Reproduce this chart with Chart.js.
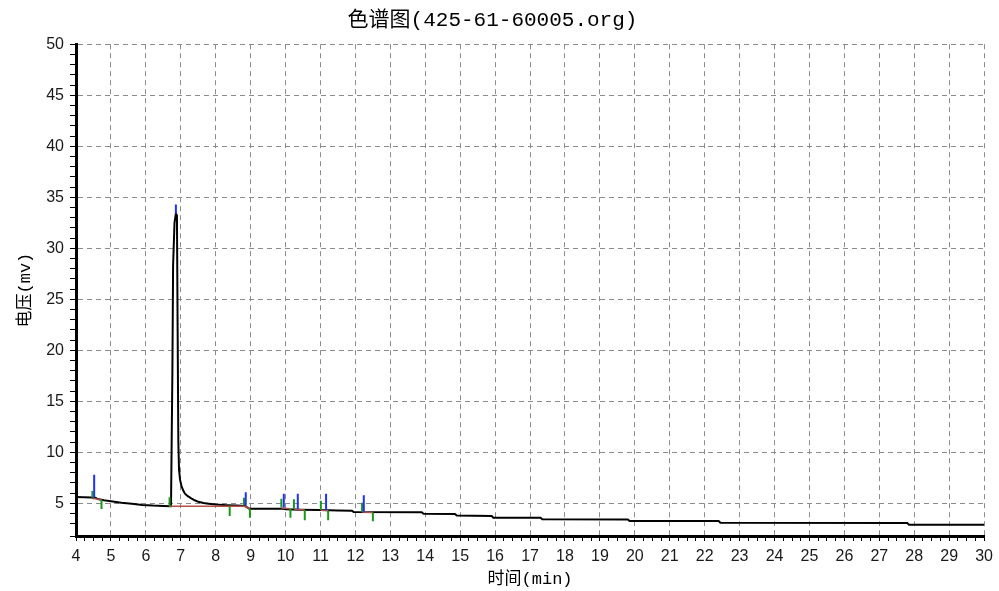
<!DOCTYPE html>
<html>
<head>
<meta charset="utf-8">
<script src="https://cdn.jsdelivr.net/npm/chart.js@4.4.0/dist/chart.umd.min.js"></script>
<style>
html, body { margin: 0; padding: 0; background: #fff; }
#wrap { width: 999px; height: 591px; }
</style>
</head>
<body>
<div id="wrap"><canvas id="chromatogram" width="999" height="591"></canvas></div>
<script>
// detector trace (min, mV)
const traceTime = [4.0, 4.44, 4.5, 4.56, 4.62, 4.8, 5.0, 5.3, 5.6, 5.9, 6.2, 6.5, 6.72, 6.76, 6.78, 6.82, 6.86, 6.89, 6.91, 6.93,
	6.95, 6.98, 7.02, 7.07, 7.12, 7.2, 7.3, 7.4, 7.5, 7.65, 7.8, 8.0, 8.3, 8.6, 8.84, 8.9, 8.96, 9.5, 9.92, 10.0,
	10.4, 11.0, 11.5, 11.9, 11.95, 13.9, 13.95, 14.85, 14.9, 15.9, 15.95, 17.3, 17.35, 19.8, 19.85, 22.4, 22.45, 27.8, 27.85, 30];
const traceVoltage = [5.62, 5.58, 5.5, 5.55, 5.42, 5.3, 5.2, 5.05, 4.95, 4.85, 4.78, 4.74, 4.72, 18, 28.3, 32.5, 33.4, 33.2, 22, 11,
	8.3, 7.3, 6.7, 6.25, 5.95, 5.7, 5.48, 5.3, 5.15, 5.03, 4.96, 4.88, 4.82, 4.78, 4.75, 4.6, 4.48, 4.47, 4.46, 4.42,
	4.38, 4.34, 4.3, 4.28, 4.15, 4.12, 3.98, 3.96, 3.8, 3.76, 3.6, 3.58, 3.43, 3.42, 3.27, 3.26, 3.1, 3.08, 2.9, 2.9];

// peak markers
const apexTime = [4.52, 6.86, 8.86, 9.95, 10.35, 11.16, 12.24];
const apexLow = [5.6, 33.4, 4.8, 4.6, 4.45, 4.33, 4.17];
const apexHigh = [7.8, 34.3, 6.1, 5.95, 5.95, 5.95, 5.8];
const startTime = [4.47, 6.68, 8.81, 9.88, 10.24, 11.01, 12.19];
const startLow = [5.55, 4.7, 4.8, 4.6, 4.48, 4.35, 4.17];
const startHigh = [6.2, 5.6, 5.55, 5.45, 5.4, 5.25, 5.05];
const endTime = [4.73, 8.4, 8.98, 10.14, 10.55, 11.22, 12.5];
const endHigh = [5.35, 4.7, 4.5, 4.5, 4.35, 4.3, 4.1];
const endLow = [4.45, 3.75, 3.6, 3.6, 3.35, 3.35, 3.25];
const baseFrom = [4.47, 6.68, 8.81, 9.88, 10.24, 11.01, 12.19];
const baseFromY = [5.5, 4.72, 4.72, 4.55, 4.45, 4.33, 4.15];
const baseTo = [4.73, 8.81, 8.98, 10.14, 10.55, 11.22, 12.5];
const baseToY = [5.36, 4.72, 4.5, 4.48, 4.36, 4.3, 4.1];

const xLabels = [4, 5, 6, 7, 8, 9, 10, 11, 12, 13, 14, 15, 16, 17, 18, 19, 20, 21, 22, 23, 24, 25, 26, 27, 28, 29, 30];
const yLabels = [5, 10, 15, 20, 25, 30, 35, 40, 45, 50];

const gridGray = '#8c8c8c';
const none = 'rgba(0,0,0,0)';
const mixFont = "'Liberation Mono', 'Noto Sans CJK SC'";

function segments(x1, y1, x2, y2) {
	const pts = [];
	x1.forEach((x, i) => {
		pts.push({x: x, y: y1[i]}, {x: x2[i], y: y2[i]}, {x: x2[i], y: null});
	});
	return pts;
}

function markerSet(data, color, width, order) {
	return {data: data, borderColor: color, borderWidth: width, pointRadius: 0, spanGaps: false, order: order};
}

const canvas = document.getElementById('chromatogram');
// eslint-disable-next-line no-undef
new Chart(canvas, {
	type: 'line',
	data: {
		datasets: [
			markerSet(segments(apexTime, apexLow, apexTime, apexHigh), '#1f2fff', 2, 0),
			markerSet(segments(startTime, startLow, startTime, startHigh), '#169a16', 2, 0),
			markerSet(segments(endTime, endHigh, endTime, endLow), '#169a16', 2, 0),
			markerSet(segments(baseFrom, baseFromY, baseTo, baseToY), '#b4504a', 1.5, 1),
			{
				data: traceTime.map((t, i) => ({x: t, y: traceVoltage[i]})),
				borderColor: '#000',
				borderWidth: 2,
				pointRadius: 0,
				order: 2
			}
		]
	},
	options: {
		responsive: false,
		animation: false,
		layout: {padding: {left: 0, right: 14, top: 0, bottom: 0}},
		plugins: {
			legend: {display: false},
			tooltip: {enabled: false},
			title: {
				display: true,
				text: '色谱图(425-61-60005.org)',
				color: '#000',
				font: {family: mixFont, size: 21, weight: 'normal'},
				padding: {top: 8, bottom: 11}
			}
		},
		scales: {
			x: {
				type: 'linear',
				min: 4,
				max: 30,
				afterFit: (s) => { s.height = 55; },
				ticks: {
					stepSize: 0.25,
					autoSkip: false,
					maxRotation: 0,
					padding: 6,
					color: '#1a1a1a',
					font: {family: 'Liberation Sans', size: 16},
					callback: (v) => xLabels.includes(v) ? String(v) : ''
				},
				grid: {
					color: (c) => c.tick && Number.isInteger(c.tick.value) ? gridGray : none,
					tickColor: '#000',
					tickLength: 5,
					lineWidth: 1
				},
				border: {color: '#000', width: 3, dash: [5, 4]},
				title: {
					display: true,
					text: '时间(min)',
					color: '#000',
					font: {family: mixFont, size: 17},
					padding: {top: 0, bottom: 1}
				}
			},
			y: {
				min: 1.8,
				max: 50,
				afterFit: (s) => { s.width = 76; },
				ticks: {
					stepSize: 1,
					autoSkip: false,
					padding: 6,
					color: '#1a1a1a',
					font: {family: 'Liberation Sans', size: 16},
					callback: (v) => yLabels.includes(v) ? String(v) : ''
				},
				grid: {
					color: (c) => c.tick && c.tick.value % 5 === 0 ? gridGray : none,
					tickColor: '#000',
					tickLength: 6,
					lineWidth: 1
				},
				border: {color: '#000', width: 3, dash: [5, 4]},
				title: {
					display: true,
					text: '电压(mv)',
					color: '#000',
					font: {family: mixFont, size: 17},
					padding: {top: 15, bottom: 0}
				}
			}
		}
	}
});
</script>
</body>
</html>
